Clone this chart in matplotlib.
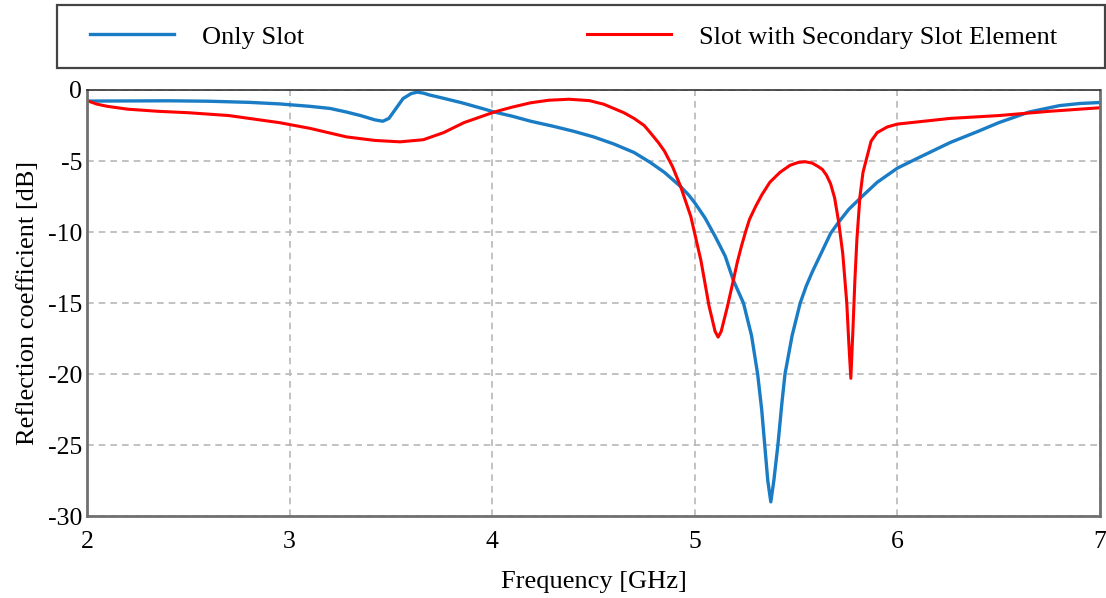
import matplotlib
matplotlib.use("Agg")
import matplotlib.pyplot as plt
from matplotlib.patches import Rectangle
import numpy as np

plt.rcParams['font.family'] = ['Liberation Serif', 'DejaVu Serif']
plt.rcParams['axes.unicode_minus'] = False

# Only Slot (blue)
freq_slot = [2.0, 2.2, 2.4, 2.6, 2.8, 2.95, 3.1, 3.2, 3.28, 3.35, 3.42, 3.46, 3.49,
             3.52, 3.56, 3.6, 3.63, 3.66, 3.69, 3.75, 3.85, 3.95, 4.01, 4.1, 4.19,
             4.3, 4.4, 4.5, 4.6, 4.7, 4.78, 4.85, 4.93, 4.97, 5.0, 5.05, 5.1, 5.15,
             5.19, 5.24, 5.28, 5.31, 5.33, 5.345, 5.36, 5.375, 5.39, 5.41, 5.43,
             5.445, 5.48, 5.52, 5.55, 5.58, 5.63, 5.67, 5.71, 5.76, 5.825, 5.9,
             6.0, 6.1, 6.26, 6.4, 6.5, 6.65, 6.8, 6.9, 7.0]
s11_slot = [-0.78, -0.77, -0.76, -0.79, -0.87, -0.98, -1.15, -1.3, -1.55, -1.8, -2.1,
            -2.2, -2.0, -1.4, -0.6, -0.25, -0.15, -0.22, -0.35, -0.55, -0.9, -1.3,
            -1.55, -1.85, -2.2, -2.55, -2.9, -3.3, -3.8, -4.4, -5.1, -5.8, -6.8,
            -7.4, -7.95, -9.0, -10.3, -11.7, -13.4, -15.0, -17.3, -20.0, -22.5,
            -25.0, -27.5, -29.0, -27.5, -25.0, -22.0, -20.0, -17.3, -15.0, -13.8,
            -12.8, -11.3, -10.1, -9.3, -8.4, -7.5, -6.5, -5.5, -4.8, -3.7, -2.9,
            -2.3, -1.55, -1.1, -0.95, -0.88]

# Slot with Secondary Slot Element (red)
freq_sec = [2.0, 2.05, 2.1, 2.2, 2.35, 2.5, 2.7, 2.95, 3.1, 3.28, 3.42, 3.545, 3.66,
            3.76, 3.86, 4.01, 4.1, 4.19, 4.28, 4.38, 4.48, 4.55, 4.6, 4.65, 4.7,
            4.75, 4.78, 4.82, 4.85, 4.89, 4.93, 4.98, 5.03, 5.07, 5.1, 5.115, 5.13,
            5.16, 5.19, 5.21, 5.23, 5.25, 5.27, 5.3, 5.33, 5.37, 5.42, 5.47, 5.51,
            5.545, 5.58, 5.61, 5.63, 5.65, 5.67, 5.69, 5.71, 5.73, 5.75, 5.76,
            5.77, 5.78, 5.79, 5.8, 5.815, 5.83, 5.85, 5.87, 5.9, 5.95, 6.0, 6.26,
            6.5, 6.75, 7.0]
s11_sec = [-0.75, -1.0, -1.15, -1.35, -1.5, -1.6, -1.8, -2.3, -2.7, -3.3, -3.55,
           -3.65, -3.5, -3.0, -2.3, -1.55, -1.2, -0.9, -0.72, -0.65, -0.75, -1.0,
           -1.3, -1.6, -2.0, -2.5, -3.0, -3.7, -4.3, -5.4, -6.8, -8.9, -12.0,
           -15.2, -17.0, -17.4, -17.0, -15.3, -13.4, -12.1, -11.0, -10.0, -9.1,
           -8.2, -7.4, -6.5, -5.8, -5.3, -5.1, -5.05, -5.15, -5.4, -5.6, -6.0,
           -6.6, -7.6, -9.3, -11.5, -15.0, -17.8, -20.3, -17.0, -13.4, -10.5,
           -7.5, -5.8, -4.7, -3.6, -3.0, -2.6, -2.4, -2.0, -1.8, -1.5, -1.25]

x_ticks = [2, 3, 4, 5, 6, 7]
y_ticks = [0, -5, -10, -15, -20, -25, -30]

fig = plt.figure(figsize=(11.06, 5.98), dpi=100)
ax = fig.add_axes([0.0787, 0.137, 0.9159, 0.7125])

ax.plot(freq_slot, s11_slot, color='#1a7cc4', lw=2.4, label='Only Slot')
ax.plot(freq_sec, s11_sec, color='#ff0000', lw=2.2, label='Slot with Secondary Slot Element')

ax.set_xlim(2, 7)
ax.set_ylim(-30, 0)
ax.set_xticks(x_ticks)
ax.set_yticks(y_ticks)
ax.set_xticklabels([str(v) for v in x_ticks])
ax.set_yticklabels([str(v) for v in y_ticks])
ax.tick_params(length=0, labelsize=18.5)
ax.tick_params(axis='x', pad=11)
ax.tick_params(axis='y', pad=3.5)
ax.grid(True, ls=(0, (4, 3)), color='#b8b8b8', lw=1.2)

for s in ax.spines.values():
    s.set_color('#707070')
    s.set_linewidth(2)
ax.spines['top'].set_color('#333333')
ax.spines['top'].set_linewidth(1.2)

ax.set_xlabel('Frequency [GHz]', fontsize=19, labelpad=13)
ax.set_ylabel('Reflection coefficient [dB]', fontsize=19, labelpad=6)

# legend box drawn separately so the padding can be asymmetric
fig.patches.append(Rectangle((57 / 1106, 1 - 68 / 598), 1048 / 1106, 63 / 598,
                             transform=fig.transFigure, fill=False,
                             edgecolor='#444444', lw=1.6))
fig.legend(loc='center left', ncol=2, bbox_to_anchor=(90 / 1106, 1 - 37 / 598),
           borderaxespad=0, borderpad=0, fontsize=19, handlelength=3.2,
           handletextpad=1.05, columnspacing=10.7, frameon=False)

fig.savefig('out.png', dpi=100)
